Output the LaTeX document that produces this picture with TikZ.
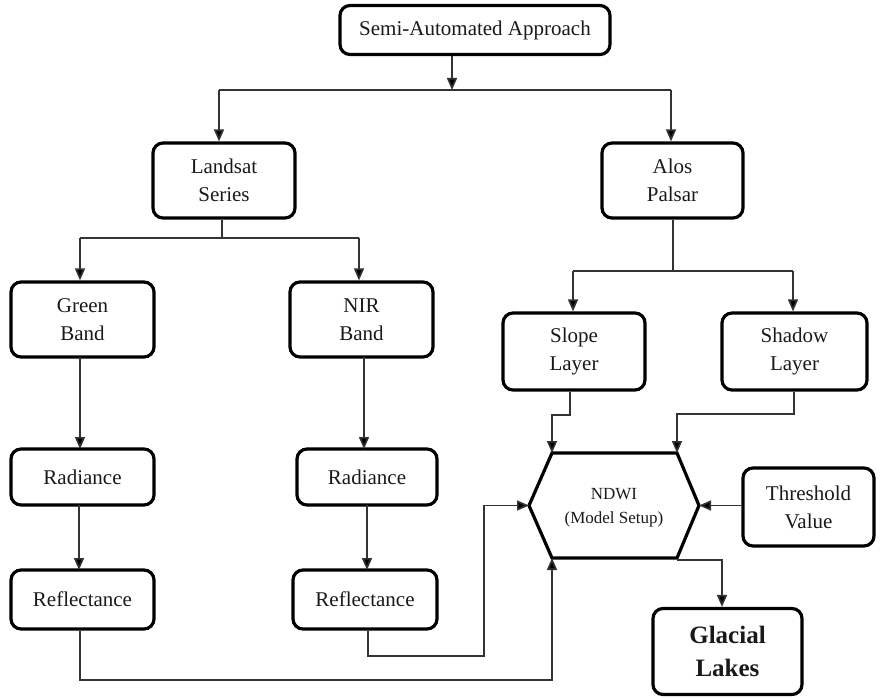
\documentclass[tikz,border=0pt]{standalone}
\usepackage{fontspec}
\setmainfont{Liberation Serif}
\usetikzlibrary{arrows.meta}
\tikzset{
  box/.style={draw=black, line width=3.2pt, rounded corners=10pt, align=center,
    inner sep=0pt, text=black!90, font=\fontsize{21}{28}\selectfont},
  conn/.style={draw=black!80, line width=1.6pt},
  arr/.style={conn, -{Triangle[length=12pt,width=10pt,fill=black]}},
}
\begin{document}
\begin{tikzpicture}[x=1pt,y=-1pt]
\useasboundingbox (0,0) rectangle (880,698);
% boxes
\node[box, minimum width=270pt, minimum height=49pt] (top) at (475,30) {Semi-Automated Approach};
\node[box, minimum width=142pt, minimum height=75pt] (landsat) at (224,180.5) {Landsat\\Series};
\node[box, minimum width=141pt, minimum height=75pt] (alos) at (672.5,180.5) {Alos\\Palsar};
\node[box, minimum width=143pt, minimum height=75pt] (green) at (82.5,319.5) {Green\\Band};
\node[box, minimum width=143pt, minimum height=75pt] (nir) at (361.5,319.5) {NIR\\Band};
\node[box, minimum width=142pt, minimum height=77pt] (slope) at (574,351.5) {Slope\\Layer};
\node[box, minimum width=145pt, minimum height=77pt] (shadow) at (794.5,351.5) {Shadow\\Layer};
\node[box, minimum width=143pt, minimum height=56pt] (radA) at (82.5,477) {Radiance};
\node[box, minimum width=140pt, minimum height=56pt] (radB) at (367,477) {Radiance};
\node[box, minimum width=143pt, minimum height=59pt] (refA) at (82.5,599.5) {Reflectance};
\node[box, minimum width=144pt, minimum height=59pt] (refB) at (365,599.5) {Reflectance};
\node[box, minimum width=131pt, minimum height=78pt] (thr) at (808.5,507) {Threshold\\Value};
\node[box, minimum width=149pt, minimum height=86pt, font=\fontsize{25}{33}\selectfont\bfseries] (glac) at (727.5,651.5) {Glacial\\Lakes};
% hexagon
\coordinate (hTL) at (552,453);
\coordinate (hTR) at (677,453);
\coordinate (hR) at (699,505.5);
\coordinate (hBR) at (677,558);
\coordinate (hBL) at (552,558);
\coordinate (hL) at (529,505.5);
\draw[line width=3.2pt, line join=miter] (hTL) -- (hTR) -- (hR) -- (hBR) -- (hBL) -- (hL) -- cycle;
\node[align=center, text=black!90, font=\fontsize{17}{24}\selectfont] (ndwi) at (614,508) {NDWI\\(Model Setup)};
% connector junctions
\coordinate (j1) at (452,90);
\coordinate (j1L) at (219,90);
\coordinate (j1R) at (671,90);
\coordinate (j2) at (222,238);
\coordinate (j2L) at (80,238);
\coordinate (j2R) at (359,238);
\coordinate (j3) at (673,271);
\coordinate (j3L) at (573,271);
\coordinate (j3R) at (793,271);
% top level
\draw[arr] (top.south -| j1) -- (j1);
\draw[conn] (j1L) -- (j1R);
\draw[arr] (j1L) -- (j1L |- landsat.north);
\draw[arr] (j1R) -- (j1R |- alos.north);
% landsat
\draw[conn] (landsat.south -| j2) -- (j2);
\draw[conn] (j2L) -- (j2R);
\draw[arr] (j2L) -- (j2L |- green.north);
\draw[arr] (j2R) -- (j2R |- nir.north);
% alos
\draw[conn] (alos.south -| j3) -- (j3);
\draw[conn] (j3L) -- (j3R);
\draw[arr] (j3L) -- (j3L |- slope.north);
\draw[arr] (j3R) -- (j3R |- shadow.north);
% band chains
\draw[arr] (80,357) -- (80,449);
\draw[arr] (364,357) -- (364,449);
\draw[arr] (79,505) -- (79,570);
\draw[arr] (367,505) -- (367,570);
% slope / shadow to ndwi
\coordinate (s1) at (570,415);
\coordinate (s2) at (794,414);
\draw[arr] (slope.south -| s1) -- (s1) -| (hTL);
\draw[arr] (shadow.south -| s2) -- (s2) -| (hTR);
% threshold
\draw[arr] (thr.west |- hR) -- (hR);
% reflectances
\coordinate (r2) at (368,656);
\coordinate (r2b) at (484,656);
\draw[arr] (refB.south -| r2) -- (r2) -- (r2b) |- (hL);
\coordinate (r1) at (80,680);
\draw[arr] (refA.south -| r1) -- (r1) -| (hBL);
% to glacial lakes
\coordinate (g1) at (722,560);
\draw[arr] (677,560) -- (g1) -- (g1 |- glac.north);
\end{tikzpicture}
\end{document}
